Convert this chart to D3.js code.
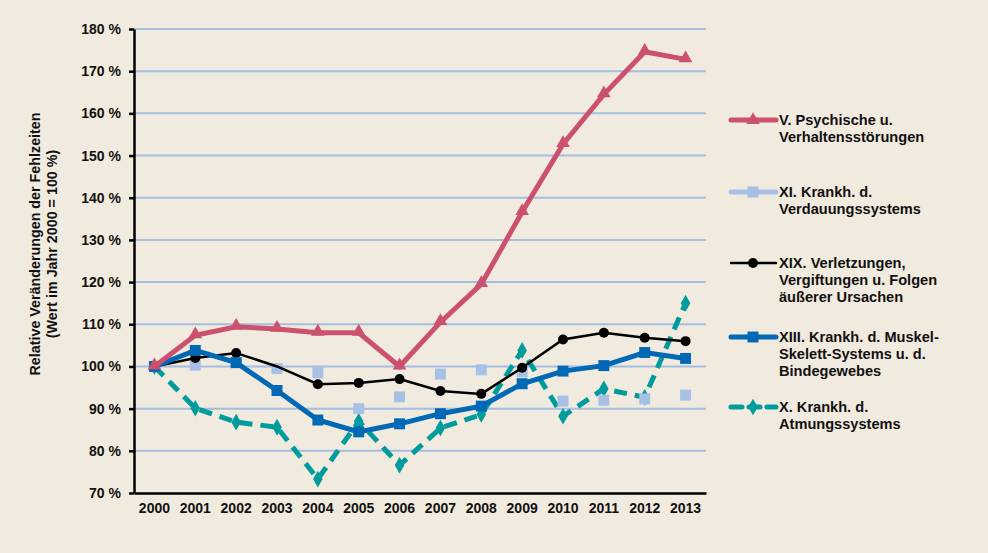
<!DOCTYPE html>
<html><head><meta charset="utf-8">
<script src="https://cdn.jsdelivr.net/npm/d3@7"></script>
<style>body{margin:0;background:#F1EADE;} svg{display:block;font-family:"Liberation Sans",Arial,sans-serif;}</style>
</head><body><svg id="c" width="988" height="553"></svg>
<script>
const years = [2000,2001,2002,2003,2004,2005,2006,2007,2008,2009,2010,2011,2012,2013];
const psychische = [100,107.4,109.4,108.9,108,108,100,110.5,119.5,136.6,152.7,164.5,174.6,172.8];
const verdauung = [100,100.3,101,99.5,98.5,90,92.8,98.2,99.2,98.7,91.8,92,92.3,93.2];
const verletzungen = [100,102,103.2,100,95.8,96.1,97,94.2,93.5,99.7,106.4,108,106.8,106];
const muskel = [100,103.8,100.9,94.3,87.3,84.5,86.4,88.8,90.6,95.9,98.9,100.2,103.3,101.9];
const atmung = [100,90.1,86.8,85.6,73.3,87,76.6,85.4,88.6,103.8,88.2,94.7,92.7,115];
const yTicks = [70,80,90,100,110,120,130,140,150,160,170,180];
const legendLabels = [
  ["V. Psychische u.","Verhaltensstörungen"],
  ["XI. Krankh. d.","Verdauungssystems"],
  ["XIX. Verletzungen,","Vergiftungen u. Folgen","äußerer Ursachen"],
  ["XIII. Krankh. d. Muskel-","Skelett-Systems u. d.","Bindegewebes"],
  ["X. Krankh. d.","Atmungssystems"]
];
const yTitle = ["Relative Veränderungen der Fehlzeiten","(Wert im Jahr 2000 = 100 %)"];

const svg = d3.select("#c");
svg.append("rect").attr("width",988).attr("height",553).attr("fill","#F1EADE");
const L=134, R=706, T=29, B=493;
const x = d3.scaleBand().domain(years).range([L,R]);
const xc = d => x(d)+x.bandwidth()/2;
const y = d3.scaleLinear().domain([70,180]).range([B,T]);

// grid
svg.append("g").selectAll("line").data(yTicks.filter(t=>t>70)).join("line")
  .attr("x1",L).attr("x2",R).attr("y1",d=>y(d)).attr("y2",d=>y(d))
  .attr("stroke","#A4BDE2").attr("stroke-width",2);

// y axis
const ya = svg.append("g").attr("transform",`translate(${L},0)`)
  .call(d3.axisLeft(y).tickValues(yTicks).tickSize(5).tickSizeOuter(0).tickPadding(8).tickFormat(d=>d+" %"));
ya.select(".domain").attr("stroke","#000").attr("stroke-width",2.5);
ya.selectAll(".tick line").attr("stroke","#000").attr("stroke-width",2.5);
ya.selectAll("text").attr("font-size",14).attr("font-weight","bold").attr("fill","#111");

// x axis
const xa = svg.append("g").attr("transform",`translate(0,${B})`)
  .call(d3.axisBottom(x).tickSize(0).tickPadding(10).tickFormat(d=>d));
xa.select(".domain").attr("stroke","#000").attr("stroke-width",2.5);
xa.selectAll("text").attr("font-size",14).attr("font-weight","bold").attr("fill","#111");

// y title
const yt = svg.append("text").attr("transform","translate(40,244) rotate(-90)")
  .attr("text-anchor","middle").attr("font-size",14.3).attr("font-weight","bold").attr("fill","#111");
yTitle.forEach((t,i)=>yt.append("tspan").attr("x",0).attr("dy",i?17:0).text(t));

const line = d3.line().x((d,i)=>xc(years[i])).y(d=>y(d));
const tri = d3.symbol().type(d3.symbolTriangle).size(80);
const sq = d3.symbol().type(d3.symbolSquare).size(120);
const dia = d3.symbol().type(d3.symbolDiamond).size(80);

// teal dashed
svg.append("path").datum(atmung).attr("d",line).attr("fill","none")
  .attr("stroke","#009B9C").attr("stroke-width",5).attr("stroke-dasharray","13,8").attr("stroke-linejoin","round");
svg.append("g").selectAll("path").data(atmung).join("path")
  .attr("d",dia).attr("transform",(d,i)=>`translate(${xc(years[i])},${y(d)})`).attr("fill","#009B9C");

// light blue squares
svg.append("g").selectAll("path").data(verdauung).join("path")
  .attr("d",sq).attr("transform",(d,i)=>`translate(${xc(years[i])},${y(d)})`).attr("fill","#A7C0E5");

// black
svg.append("path").datum(verletzungen).attr("d",line).attr("fill","none")
  .attr("stroke","#000").attr("stroke-width",2.5);
svg.append("g").selectAll("circle").data(verletzungen).join("circle")
  .attr("cx",(d,i)=>xc(years[i])).attr("cy",d=>y(d)).attr("r",d=>d===100?0:5).attr("fill","#000");

// blue
svg.append("path").datum(muskel).attr("d",line).attr("fill","none")
  .attr("stroke","#0068B4").attr("stroke-width",5);
svg.append("g").selectAll("path").data(muskel).join("path")
  .attr("d",sq).attr("transform",(d,i)=>`translate(${xc(years[i])},${y(d)})`).attr("fill","#0068B4");

// red
svg.append("path").datum(psychische).attr("d",line).attr("fill","none")
  .attr("stroke","#CB516F").attr("stroke-width",5);
svg.append("g").selectAll("path").data(psychische).join("path")
  .attr("d",tri).attr("transform",(d,i)=>`translate(${xc(years[i])},${y(d)-1})`).attr("fill","#CB516F");

// legend
const legY = [120,192,263,337,407];
const legStyle = [
  {c:"#CB516F",w:5,dash:null,m:tri},
  {c:"#A7C0E5",w:5,dash:null,m:sq},
  {c:"#000",w:2.5,dash:null,m:null},
  {c:"#0068B4",w:5,dash:null,m:sq},
  {c:"#009B9C",w:5,dash:"11,7",m:dia}
];
legStyle.forEach((s,i)=>{
  const g = svg.append("g");
  g.append("line").attr("x1",731).attr("x2",776).attr("y1",legY[i]).attr("y2",legY[i])
    .attr("stroke",s.c).attr("stroke-width",s.w).attr("stroke-dasharray",s.dash).attr("stroke-linecap","round");
  if(s.m) g.append("path").attr("d",s.m).attr("transform",`translate(753,${legY[i]})`).attr("fill",s.c);
  else g.append("circle").attr("cx",753).attr("cy",legY[i]).attr("r",5).attr("fill","#000");
  const t = g.append("text").attr("x",779).attr("y",legY[i]+5).attr("font-size",14.6).attr("font-weight","bold").attr("fill","#111");
  legendLabels[i].forEach((l,j)=>t.append("tspan").attr("x",779).attr("dy",j?17:0).text(l));
});
</script></body></html>
